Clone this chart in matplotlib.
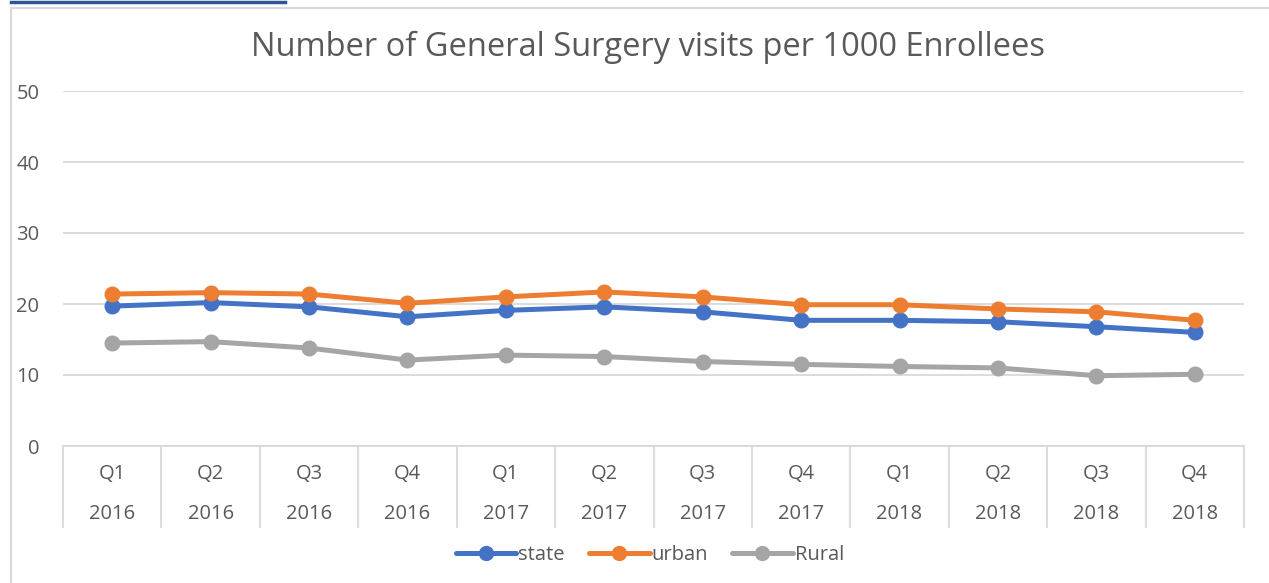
import matplotlib
matplotlib.use('Agg')
import matplotlib.pyplot as plt
from matplotlib.lines import Line2D

quarters = ['Q1', 'Q2', 'Q3', 'Q4'] * 3
years = ['2016'] * 4 + ['2017'] * 4 + ['2018'] * 4

state = [19.7, 20.2, 19.6, 18.2, 19.1, 19.6, 18.9, 17.7, 17.7, 17.5, 16.8, 16.0]
urban = [21.4, 21.6, 21.4, 20.1, 21.0, 21.7, 21.0, 19.9, 19.9, 19.3, 18.9, 17.7]
rural = [14.5, 14.7, 13.8, 12.1, 12.8, 12.6, 11.9, 11.5, 11.2, 11.0, 9.9, 10.1]

series = [('state', state, '#4472C4'),
          ('urban', urban, '#ED7D31'),
          ('Rural', rural, '#A5A5A5')]

TEXT = '#595959'
GRID = '#D9D9D9'
W, H = 1269, 583
LABEL_SIZE = 14.5

plt.rcParams['font.family'] = ['Open Sans', 'DejaVu Sans']

fig = plt.figure(figsize=(W / 100, H / 100), dpi=100)

# chart frame and the blue rule above it
fig.add_artist(Line2D([11 / W, 1], [1 - 8 / H, 1 - 8 / H], color=GRID, lw=1.5))
fig.add_artist(Line2D([11 / W, 11 / W], [0, 1 - 8 / H], color=GRID, lw=1.5))
fig.add_artist(Line2D([11 / W, 285 / W], [1 - 2 / H, 1 - 2 / H], color='#2F5597', lw=2.5))

ax = fig.add_axes([63 / W, 137 / H, (1244 - 63) / W, 355 / H])

x = list(range(len(quarters)))
for name, vals, color in series:
    ax.plot(x, vals, color=color, lw=3.6, marker='o', markersize=10.5,
            label=name, zorder=3, solid_capstyle='round')

ax.set_xlim(-0.5, len(quarters) - 0.5)
ax.set_ylim(0, 50)
ax.set_yticks(range(0, 51, 10))
ax.grid(True, axis='y', color=GRID, lw=1.3)
ax.set_axisbelow(True)
for side in ['top', 'right', 'left']:
    ax.spines[side].set_visible(False)
ax.spines['bottom'].set_color(GRID)
ax.spines['bottom'].set_linewidth(1.3)
ax.tick_params(axis='y', length=0, pad=17, labelsize=LABEL_SIZE, labelcolor=TEXT)
ax.tick_params(axis='x', length=0, labelbottom=False)

# two-level category axis
xt = ax.get_xaxis_transform()
for i, (q, yr) in enumerate(zip(quarters, years)):
    ax.text(i, -0.078, q, transform=xt, ha='center', va='center',
            fontsize=LABEL_SIZE, color=TEXT)
    ax.text(i, -0.191, yr, transform=xt, ha='center', va='center',
            fontsize=LABEL_SIZE, color=TEXT)
for k in range(len(quarters) + 1):
    ax.plot([k - 0.5, k - 0.5], [0, -0.228], transform=xt, color=GRID,
            lw=1.3, clip_on=False)

fig.text(648 / W, 1 - 47 / H, 'Number of General Surgery visits per 1000 Enrollees',
         ha='center', va='center', fontsize=23.5, color=TEXT)

fig.legend(loc='center', bbox_to_anchor=(650 / W, 1 - 555 / H), ncol=3,
           frameon=False, fontsize=LABEL_SIZE, labelcolor=TEXT, handlelength=3.0,
           handletextpad=0.1, columnspacing=1.2, markerscale=0.95)

fig.savefig('out.png', dpi=100)
